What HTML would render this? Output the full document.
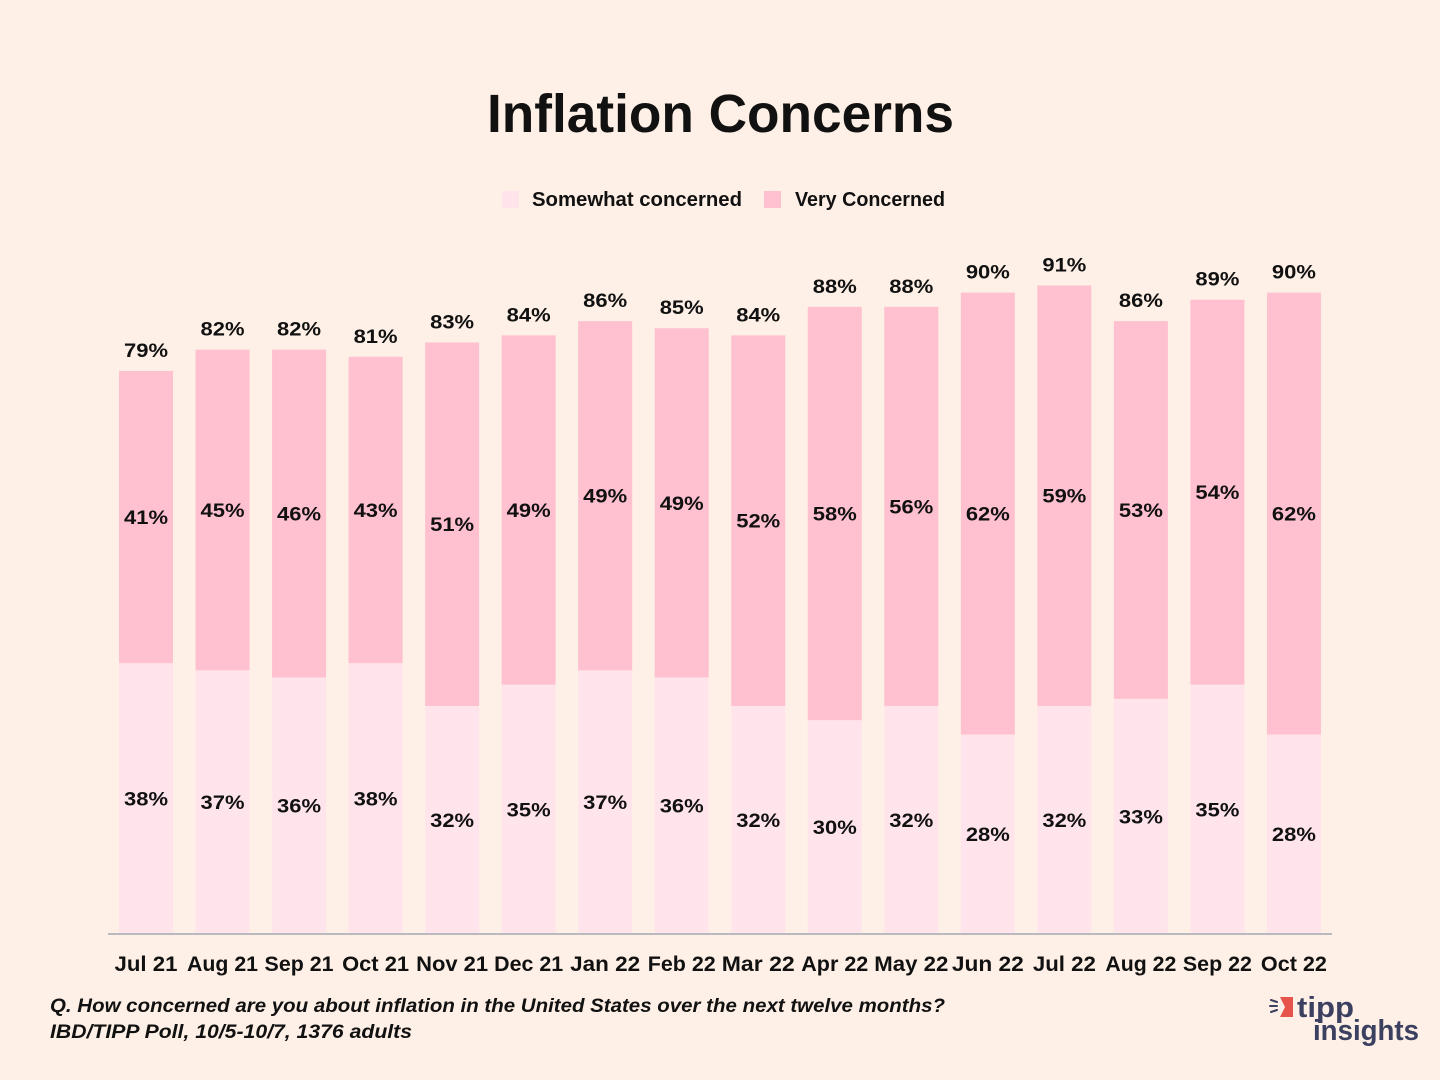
<!DOCTYPE html>
<html>
<head>
<meta charset="utf-8">
<style>
  html, body { margin:0; padding:0; background:#FEF0E6; }
  svg { display:block; }
  text { font-family:"Liberation Sans", "DejaVu Sans", sans-serif; fill:#111; }
  .dl { font-size:19px; font-weight:bold; text-anchor:middle; }
  .xl { font-size:21px; font-weight:bold; text-anchor:middle; }
</style>
</head>
<body>
<svg width="1440" height="1080" viewBox="0 0 1440 1080" xmlns="http://www.w3.org/2000/svg">
  <rect x="0" y="0" width="1440" height="1080" fill="#FEF0E6"/>

  <!-- Title -->
  <text x="487" y="132" font-size="54" font-weight="bold" textLength="467" lengthAdjust="spacingAndGlyphs">Inflation Concerns</text>

  <!-- Legend -->
  <rect x="502" y="191" width="17" height="17" fill="#FFE4EC"/>
  <text x="532" y="206" font-size="20" font-weight="bold" textLength="210" lengthAdjust="spacingAndGlyphs">Somewhat concerned</text>
  <rect x="764" y="191" width="17" height="17" fill="#FFC0D0"/>
  <text x="795" y="206" font-size="20" font-weight="bold" textLength="150" lengthAdjust="spacingAndGlyphs">Very Concerned</text>

  <!-- Bars: somewhat (bottom) -->
  <g fill="#FFE4EC">
    <rect x="119.00" y="663.19" width="54" height="270.81"/>
    <rect x="195.53" y="670.32" width="54" height="263.68"/>
    <rect x="272.06" y="677.44" width="54" height="256.56"/>
    <rect x="348.59" y="663.19" width="54" height="270.81"/>
    <rect x="425.12" y="705.95" width="54" height="228.05"/>
    <rect x="501.65" y="684.57" width="54" height="249.43"/>
    <rect x="578.18" y="670.32" width="54" height="263.68"/>
    <rect x="654.71" y="677.44" width="54" height="256.56"/>
    <rect x="731.24" y="705.95" width="54" height="228.05"/>
    <rect x="807.77" y="720.20" width="54" height="213.80"/>
    <rect x="884.30" y="705.95" width="54" height="228.05"/>
    <rect x="960.83" y="734.46" width="54" height="199.54"/>
    <rect x="1037.36" y="705.95" width="54" height="228.05"/>
    <rect x="1113.89" y="698.82" width="54" height="235.18"/>
    <rect x="1190.42" y="684.57" width="54" height="249.43"/>
    <rect x="1266.95" y="734.46" width="54" height="199.54"/>
  </g>

  <!-- Bars: very (top) -->
  <g fill="#FFC0D0">
    <rect x="119.00" y="371.00" width="54" height="292.19"/>
    <rect x="195.53" y="349.62" width="54" height="320.70"/>
    <rect x="272.06" y="349.62" width="54" height="327.82"/>
    <rect x="348.59" y="356.75" width="54" height="306.44"/>
    <rect x="425.12" y="342.49" width="54" height="363.46"/>
    <rect x="501.65" y="335.37" width="54" height="349.20"/>
    <rect x="578.18" y="321.11" width="54" height="349.21"/>
    <rect x="654.71" y="328.24" width="54" height="349.20"/>
    <rect x="731.24" y="335.37" width="54" height="370.58"/>
    <rect x="807.77" y="306.86" width="54" height="413.34"/>
    <rect x="884.30" y="306.86" width="54" height="399.09"/>
    <rect x="960.83" y="292.61" width="54" height="441.85"/>
    <rect x="1037.36" y="285.48" width="54" height="420.47"/>
    <rect x="1113.89" y="321.11" width="54" height="377.71"/>
    <rect x="1190.42" y="299.73" width="54" height="384.84"/>
    <rect x="1266.95" y="292.61" width="54" height="441.85"/>
  </g>

  <!-- Axis line -->
  <rect x="108" y="933" width="1224" height="2" fill="#B9B9BE"/>

  <!-- Total labels -->
  <g class="tot">
    <text class="dl" x="146.00" y="357.0" textLength="44" lengthAdjust="spacingAndGlyphs">79%</text>
    <text class="dl" x="222.53" y="335.6" textLength="44" lengthAdjust="spacingAndGlyphs">82%</text>
    <text class="dl" x="299.06" y="335.6" textLength="44" lengthAdjust="spacingAndGlyphs">82%</text>
    <text class="dl" x="375.59" y="342.8" textLength="44" lengthAdjust="spacingAndGlyphs">81%</text>
    <text class="dl" x="452.12" y="328.5" textLength="44" lengthAdjust="spacingAndGlyphs">83%</text>
    <text class="dl" x="528.65" y="321.4" textLength="44" lengthAdjust="spacingAndGlyphs">84%</text>
    <text class="dl" x="605.18" y="307.1" textLength="44" lengthAdjust="spacingAndGlyphs">86%</text>
    <text class="dl" x="681.71" y="314.2" textLength="44" lengthAdjust="spacingAndGlyphs">85%</text>
    <text class="dl" x="758.24" y="321.4" textLength="44" lengthAdjust="spacingAndGlyphs">84%</text>
    <text class="dl" x="834.77" y="292.9" textLength="44" lengthAdjust="spacingAndGlyphs">88%</text>
    <text class="dl" x="911.30" y="292.9" textLength="44" lengthAdjust="spacingAndGlyphs">88%</text>
    <text class="dl" x="987.83" y="278.6" textLength="44" lengthAdjust="spacingAndGlyphs">90%</text>
    <text class="dl" x="1064.36" y="271.5" textLength="44" lengthAdjust="spacingAndGlyphs">91%</text>
    <text class="dl" x="1140.89" y="307.1" textLength="44" lengthAdjust="spacingAndGlyphs">86%</text>
    <text class="dl" x="1217.42" y="285.7" textLength="44" lengthAdjust="spacingAndGlyphs">89%</text>
    <text class="dl" x="1293.95" y="278.6" textLength="44" lengthAdjust="spacingAndGlyphs">90%</text>
  </g>

  <!-- Very concerned labels -->
  <g>
    <text class="dl" x="146.00" y="524.1" textLength="44" lengthAdjust="spacingAndGlyphs">41%</text>
    <text class="dl" x="222.53" y="517.0" textLength="44" lengthAdjust="spacingAndGlyphs">45%</text>
    <text class="dl" x="299.06" y="520.5" textLength="44" lengthAdjust="spacingAndGlyphs">46%</text>
    <text class="dl" x="375.59" y="517.0" textLength="44" lengthAdjust="spacingAndGlyphs">43%</text>
    <text class="dl" x="452.12" y="531.2" textLength="44" lengthAdjust="spacingAndGlyphs">51%</text>
    <text class="dl" x="528.65" y="517.0" textLength="44" lengthAdjust="spacingAndGlyphs">49%</text>
    <text class="dl" x="605.18" y="502.7" textLength="44" lengthAdjust="spacingAndGlyphs">49%</text>
    <text class="dl" x="681.71" y="509.8" textLength="44" lengthAdjust="spacingAndGlyphs">49%</text>
    <text class="dl" x="758.24" y="527.7" textLength="44" lengthAdjust="spacingAndGlyphs">52%</text>
    <text class="dl" x="834.77" y="520.5" textLength="44" lengthAdjust="spacingAndGlyphs">58%</text>
    <text class="dl" x="911.30" y="513.4" textLength="44" lengthAdjust="spacingAndGlyphs">56%</text>
    <text class="dl" x="987.83" y="520.5" textLength="44" lengthAdjust="spacingAndGlyphs">62%</text>
    <text class="dl" x="1064.36" y="502.7" textLength="44" lengthAdjust="spacingAndGlyphs">59%</text>
    <text class="dl" x="1140.89" y="517.0" textLength="44" lengthAdjust="spacingAndGlyphs">53%</text>
    <text class="dl" x="1217.42" y="499.2" textLength="44" lengthAdjust="spacingAndGlyphs">54%</text>
    <text class="dl" x="1293.95" y="520.5" textLength="44" lengthAdjust="spacingAndGlyphs">62%</text>
  </g>

  <!-- Somewhat concerned labels -->
  <g>
    <text class="dl" x="146.00" y="805.6" textLength="44" lengthAdjust="spacingAndGlyphs">38%</text>
    <text class="dl" x="222.53" y="809.2" textLength="44" lengthAdjust="spacingAndGlyphs">37%</text>
    <text class="dl" x="299.06" y="812.7" textLength="44" lengthAdjust="spacingAndGlyphs">36%</text>
    <text class="dl" x="375.59" y="805.6" textLength="44" lengthAdjust="spacingAndGlyphs">38%</text>
    <text class="dl" x="452.12" y="827.0" textLength="44" lengthAdjust="spacingAndGlyphs">32%</text>
    <text class="dl" x="528.65" y="816.3" textLength="44" lengthAdjust="spacingAndGlyphs">35%</text>
    <text class="dl" x="605.18" y="809.2" textLength="44" lengthAdjust="spacingAndGlyphs">37%</text>
    <text class="dl" x="681.71" y="812.7" textLength="44" lengthAdjust="spacingAndGlyphs">36%</text>
    <text class="dl" x="758.24" y="827.0" textLength="44" lengthAdjust="spacingAndGlyphs">32%</text>
    <text class="dl" x="834.77" y="834.1" textLength="44" lengthAdjust="spacingAndGlyphs">30%</text>
    <text class="dl" x="911.30" y="827.0" textLength="44" lengthAdjust="spacingAndGlyphs">32%</text>
    <text class="dl" x="987.83" y="841.2" textLength="44" lengthAdjust="spacingAndGlyphs">28%</text>
    <text class="dl" x="1064.36" y="827.0" textLength="44" lengthAdjust="spacingAndGlyphs">32%</text>
    <text class="dl" x="1140.89" y="823.4" textLength="44" lengthAdjust="spacingAndGlyphs">33%</text>
    <text class="dl" x="1217.42" y="816.3" textLength="44" lengthAdjust="spacingAndGlyphs">35%</text>
    <text class="dl" x="1293.95" y="841.2" textLength="44" lengthAdjust="spacingAndGlyphs">28%</text>
  </g>

  <!-- X axis labels -->
  <g>
    <text class="xl" x="146.00" y="971" textLength="63" lengthAdjust="spacingAndGlyphs">Jul 21</text>
    <text class="xl" x="222.53" y="971" textLength="71" lengthAdjust="spacingAndGlyphs">Aug 21</text>
    <text class="xl" x="299.06" y="971" textLength="69" lengthAdjust="spacingAndGlyphs">Sep 21</text>
    <text class="xl" x="375.59" y="971" textLength="67" lengthAdjust="spacingAndGlyphs">Oct 21</text>
    <text class="xl" x="452.12" y="971" textLength="72" lengthAdjust="spacingAndGlyphs">Nov 21</text>
    <text class="xl" x="528.65" y="971" textLength="69" lengthAdjust="spacingAndGlyphs">Dec 21</text>
    <text class="xl" x="605.18" y="971" textLength="70" lengthAdjust="spacingAndGlyphs">Jan 22</text>
    <text class="xl" x="681.71" y="971" textLength="68" lengthAdjust="spacingAndGlyphs">Feb 22</text>
    <text class="xl" x="758.24" y="971" textLength="73" lengthAdjust="spacingAndGlyphs">Mar 22</text>
    <text class="xl" x="834.77" y="971" textLength="67" lengthAdjust="spacingAndGlyphs">Apr 22</text>
    <text class="xl" x="911.30" y="971" textLength="74" lengthAdjust="spacingAndGlyphs">May 22</text>
    <text class="xl" x="987.83" y="971" textLength="72" lengthAdjust="spacingAndGlyphs">Jun 22</text>
    <text class="xl" x="1064.36" y="971" textLength="63" lengthAdjust="spacingAndGlyphs">Jul 22</text>
    <text class="xl" x="1140.89" y="971" textLength="71" lengthAdjust="spacingAndGlyphs">Aug 22</text>
    <text class="xl" x="1217.42" y="971" textLength="69" lengthAdjust="spacingAndGlyphs">Sep 22</text>
    <text class="xl" x="1293.95" y="971" textLength="66" lengthAdjust="spacingAndGlyphs">Oct 22</text>
  </g>

  <!-- Footer -->
  <text x="50" y="1012" font-size="19" font-weight="bold" font-style="italic" textLength="895" lengthAdjust="spacingAndGlyphs">Q. How concerned are you about inflation in the United States over the next twelve months?</text>
  <text x="50" y="1038" font-size="19" font-weight="bold" font-style="italic" textLength="362" lengthAdjust="spacingAndGlyphs">IBD/TIPP Poll, 10/5-10/7, 1376 adults</text>

  <!-- Logo -->
  <polygon points="1280,997 1293,997 1293,1017 1280,1017 1285,1007" fill="#E5534B"/>
  <g stroke="#3B4060" stroke-width="2" stroke-linecap="round">
    <line x1="1271" y1="1000" x2="1277" y2="1002"/>
    <line x1="1270" y1="1006" x2="1277" y2="1006"/>
    <line x1="1271" y1="1012" x2="1277" y2="1010"/>
  </g>
  <text x="1297" y="1017" font-size="29" font-weight="bold" fill="#3B4060" style="fill:#3B4060" textLength="57" lengthAdjust="spacingAndGlyphs">tipp</text>
  <text x="1313" y="1040" font-size="29" font-weight="bold" fill="#3B4060" style="fill:#3B4060" textLength="106" lengthAdjust="spacingAndGlyphs">insights</text>
</svg>
</body>
</html>
